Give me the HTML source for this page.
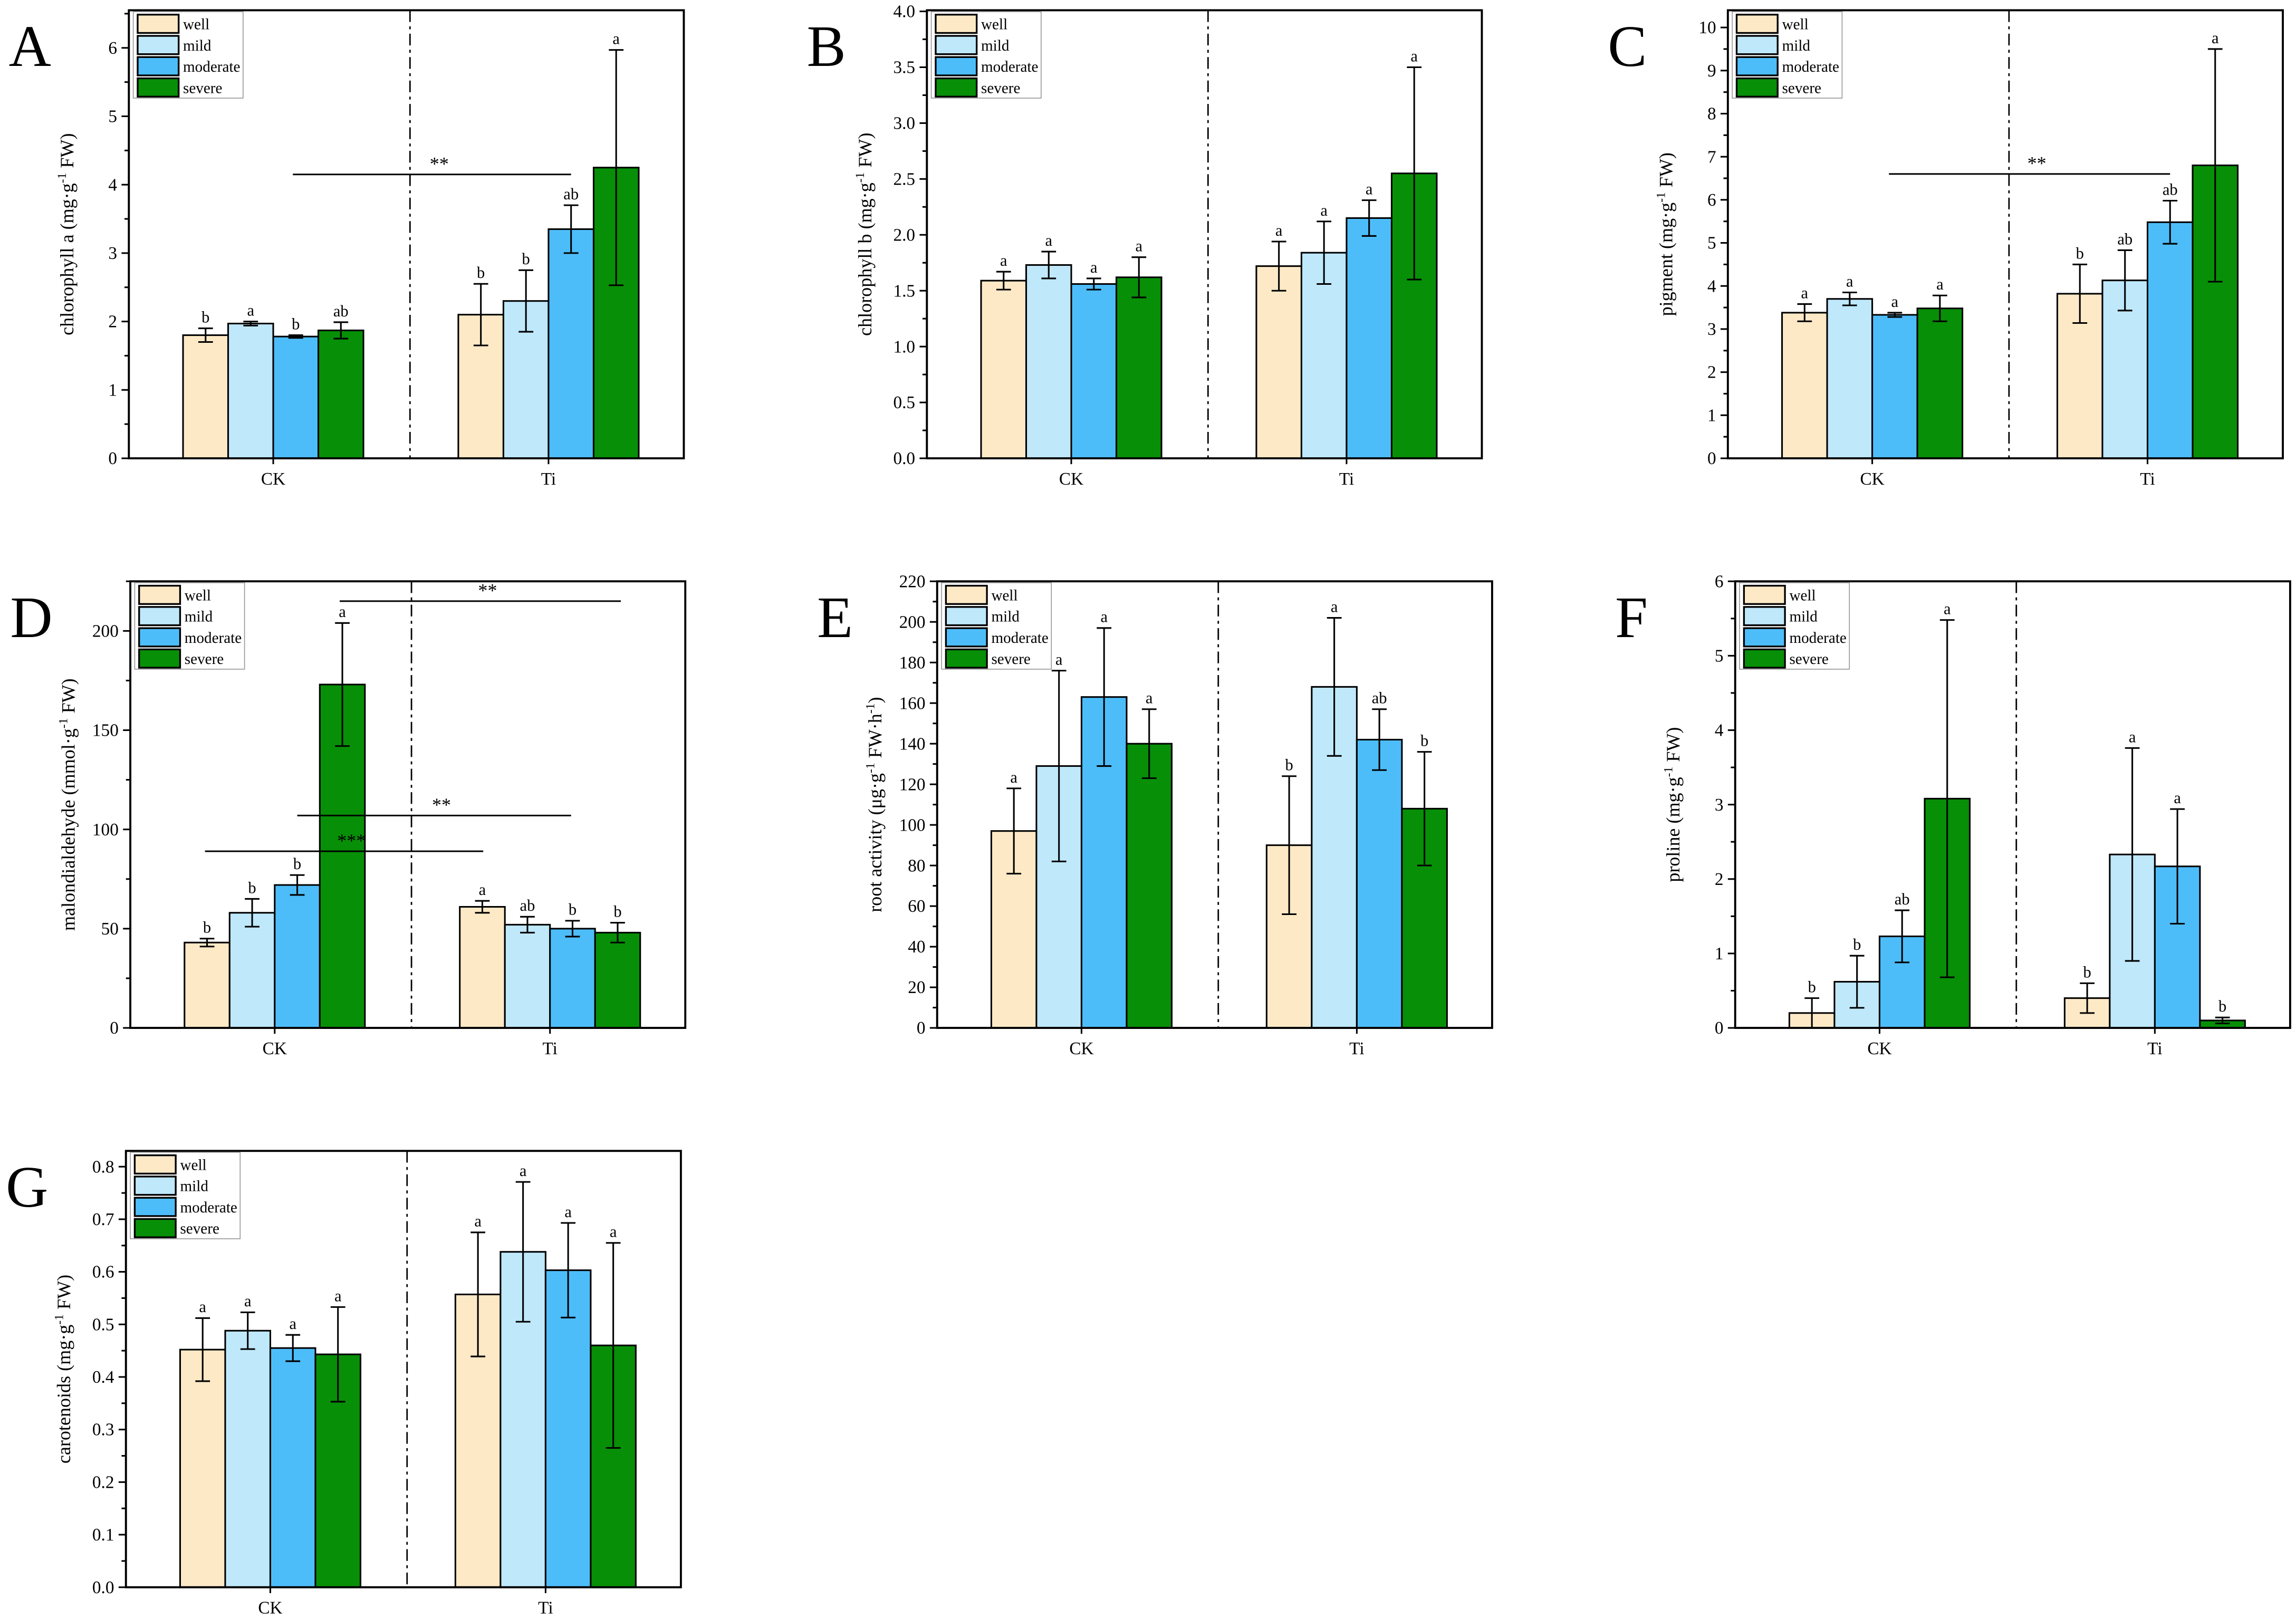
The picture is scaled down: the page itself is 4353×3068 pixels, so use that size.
<!DOCTYPE html>
<html><head><meta charset="utf-8"><style>
html,body{margin:0;padding:0;background:#fff;}
svg{display:block;font-family:"Liberation Serif",serif;}
</style></head><body>
<svg id="fig" width="4353" height="3068" viewBox="0 0 1568 1105" preserveAspectRatio="none" xmlns="http://www.w3.org/2000/svg"></svg>
<script>
const groups = ["CK","Ti"];
const series = ["well","mild","moderate","severe"];
const colors = ["#fde9c6","#bfe8fb","#4dbdf9","#078f07"];

const aMeans = [[1.80,1.97,1.78,1.87],[2.10,2.30,3.35,4.25]];
const aErrs = [[0.10,0.03,0.02,0.12],[0.45,0.45,0.35,1.72]];
const aLetters = [["b","a","b","ab"],["b","b","ab","a"]];
const bMeans = [[1.59,1.73,1.56,1.62],[1.72,1.84,2.15,2.55]];
const bErrs = [[0.08,0.12,0.05,0.18],[0.22,0.28,0.16,0.95]];
const bLetters = [["a","a","a","a"],["a","a","a","a"]];
const cMeans = [[3.38,3.70,3.33,3.48],[3.82,4.13,5.48,6.80]];
const cErrs = [[0.20,0.15,0.05,0.30],[0.68,0.70,0.50,2.70]];
const cLetters = [["a","a","a","a"],["b","ab","ab","a"]];
const dMeans = [[43,58,72,173],[61,52,50,48]];
const dErrs = [[2,7,5,31],[3,4,4,5]];
const dLetters = [["b","b","b","a"],["a","ab","b","b"]];
const eMeans = [[97,129,163,140],[90,168,142,108]];
const eErrs = [[21,47,34,17],[34,34,15,28]];
const eLetters = [["a","a","a","a"],["b","a","ab","b"]];
const fMeans = [[0.20,0.62,1.23,3.08],[0.40,2.33,2.17,0.10]];
const fErrs = [[0.20,0.35,0.35,2.40],[0.20,1.43,0.77,0.04]];
const fLetters = [["b","b","ab","a"],["b","a","a","b"]];
const gMeans = [[0.452,0.488,0.455,0.443],[0.557,0.638,0.603,0.460]];
const gErrs = [[0.060,0.035,0.025,0.090],[0.118,0.133,0.090,0.195]];
const gLetters = [["a","a","a","a"],["a","a","a","a"]];

const NS="http://www.w3.org/2000/svg";
const svg=document.getElementById('fig');
function mk(tag,attrs,parent){const e=document.createElementNS(NS,tag);for(const k in attrs)e.setAttribute(k,attrs[k]);(parent||svg).appendChild(e);return e;}

const panels=[
 {id:"A",left:88,top:7,bottom:313,max:6.55,step:1,minor:0.5,dec:0,means:aMeans,errs:aErrs,letters:aLetters,title:"chlorophyll a (mg·g",unit:" FW)",
  sig:[{v:4.15,x1:200,x2:390,t:"**"}]},
 {id:"B",left:633,top:7,bottom:313,max:4.01,step:0.5,minor:0.25,dec:1,means:bMeans,errs:bErrs,letters:bLetters,title:"chlorophyll b (mg·g",unit:" FW)",sig:[]},
 {id:"C",left:1180,top:7,bottom:313,max:10.4,step:1,minor:0.5,dec:0,means:cMeans,errs:cErrs,letters:cLetters,title:"pigment (mg·g",unit:" FW)",
  sig:[{v:6.6,x1:1290,x2:1482,t:"**"}]},
 {id:"D",left:89,top:397,bottom:702,max:225,step:50,minor:25,dec:0,means:dMeans,errs:dErrs,letters:dLetters,title:"malondialdehyde (mmol·g",unit:" FW)",
  sig:[{v:215,x1:232,x2:424,t:"**"},{v:107,x1:203,x2:390,t:"**"},{v:89,x1:140,x2:330,t:"***"}]},
 {id:"E",left:640,top:397,bottom:702,max:220,step:20,minor:10,dec:0,means:eMeans,errs:eErrs,letters:eLetters,title:"root activity (μg·g",unit:" FW·h",unit2:")",sig:[]},
 {id:"F",left:1185,top:397,bottom:702,max:6,step:1,minor:0.5,dec:0,means:fMeans,errs:fErrs,letters:fLetters,title:"proline (mg·g",unit:" FW)",sig:[]},
 {id:"G",left:86,top:786,bottom:1084,max:0.83,step:0.1,minor:0.05,dec:1,means:gMeans,errs:gErrs,letters:gLetters,title:"carotenoids (mg·g",unit:" FW)",sig:[]}
];

const W=379, BW=30.8;
panels.forEach(p=>{
 const g=mk('g',{});
 
 
 const y=v=>p.bottom-(v/p.max)*(p.bottom-p.top);
 const gx=[p.left+37,p.left+225];
 const L=mk('text',{x:p.left-82,y:p.top+38,'font-size':40},g);L.textContent=p.id;
 
 p.means.forEach((row,gi)=>{row.forEach((m,si)=>{
  const x=gx[gi]+si*BW;
  const r=mk('rect',{x:x,y:y(m),width:BW,height:p.bottom-y(m),fill:colors[si],stroke:'#000','stroke-width':1.1},g);
  
  
  const cx=x+BW/2, e=p.errs[gi][si], yt=y(m+e), yb=y(Math.max(0,m-e));
  const eb=mk('path',{d:`M${cx},${yt}V${yb}M${cx-5},${yt}H${cx+5}M${cx-5},${yb}H${cx+5}`,stroke:'#000','stroke-width':1.1,fill:'none'},g);
  
  const t=mk('text',{x:cx,y:yt-4,'font-size':11,'text-anchor':'middle'},g);t.textContent=p.letters[gi][si];
  
 });});
 const fr=mk('rect',{x:p.left,y:p.top,width:W,height:p.bottom-p.top,fill:'none',stroke:'#000','stroke-width':1.4},g);
 
 const dv=mk('line',{x1:p.left+192,x2:p.left+192,y1:p.top,y2:p.bottom,stroke:'#000','stroke-width':1,'stroke-dasharray':'8,3,2,3'},g);
 
 for(let v=0;v<=p.max+1e-9;v+=p.minor){
  const major=Math.abs(v/p.step-Math.round(v/p.step))<1e-6;
  mk('line',{x1:p.left-(major?5:3),x2:p.left,y1:y(v),y2:y(v),stroke:'#000','stroke-width':1.1},g);
  if(major){const t=mk('text',{x:p.left-8,y:y(v)+4,'font-size':12,'text-anchor':'end'},g);t.textContent=v.toFixed(p.dec);
   }
 }
 groups.forEach((gn,gi)=>{const cx=gx[gi]+2*BW;
  mk('line',{x1:cx,x2:cx,y1:p.bottom,y2:p.bottom+4,stroke:'#000','stroke-width':1.1},g);
  const t=mk('text',{x:cx,y:p.bottom+18,'font-size':12,'text-anchor':'middle'},g);t.textContent=gn;
  });
 const ty=(p.top+p.bottom)/2, tx=p.left-38;
 const tt=mk('text',{x:tx,y:ty,'font-size':13,'text-anchor':'middle',transform:`rotate(-90 ${tx} ${ty})`},g);
 
 tt.appendChild(document.createTextNode(p.title));
 const s1=mk('tspan',{'font-size':8.5,dy:-5},tt);s1.textContent='-1';
 const u1=mk('tspan',{dy:5},tt);u1.textContent=p.unit;
 if(p.unit2){const s2=mk('tspan',{'font-size':8.5,dy:-5},tt);s2.textContent='-1';const u2=mk('tspan',{dy:5},tt);u2.textContent=p.unit2;}
 p.sig.forEach(s=>{
  const ln=mk('line',{x1:s.x1,x2:s.x2,y1:y(s.v),y2:y(s.v),stroke:'#000','stroke-width':1.1},g);
  
  const t=mk('text',{x:(s.x1+s.x2)/2+5,y:y(s.v)-3,'font-size':13,'text-anchor':'middle'},g);t.textContent=s.t;
  
 });
 const lg=mk('g',{},g);
 
 mk('rect',{x:p.left+3,y:p.top+1,width:75,height:59,fill:'#fff',stroke:'#999','stroke-width':0.6},lg);
 series.forEach((s,si)=>{
  const ry=p.top+3+si*14.5;
  mk('rect',{x:p.left+6,y:ry,width:28,height:12.5,fill:colors[si],stroke:'#000','stroke-width':1.2},lg);
  const t=mk('text',{x:p.left+37,y:ry+10,'font-size':10.5},lg);t.textContent=s;
  
 });
});
</script>
</body></html>
